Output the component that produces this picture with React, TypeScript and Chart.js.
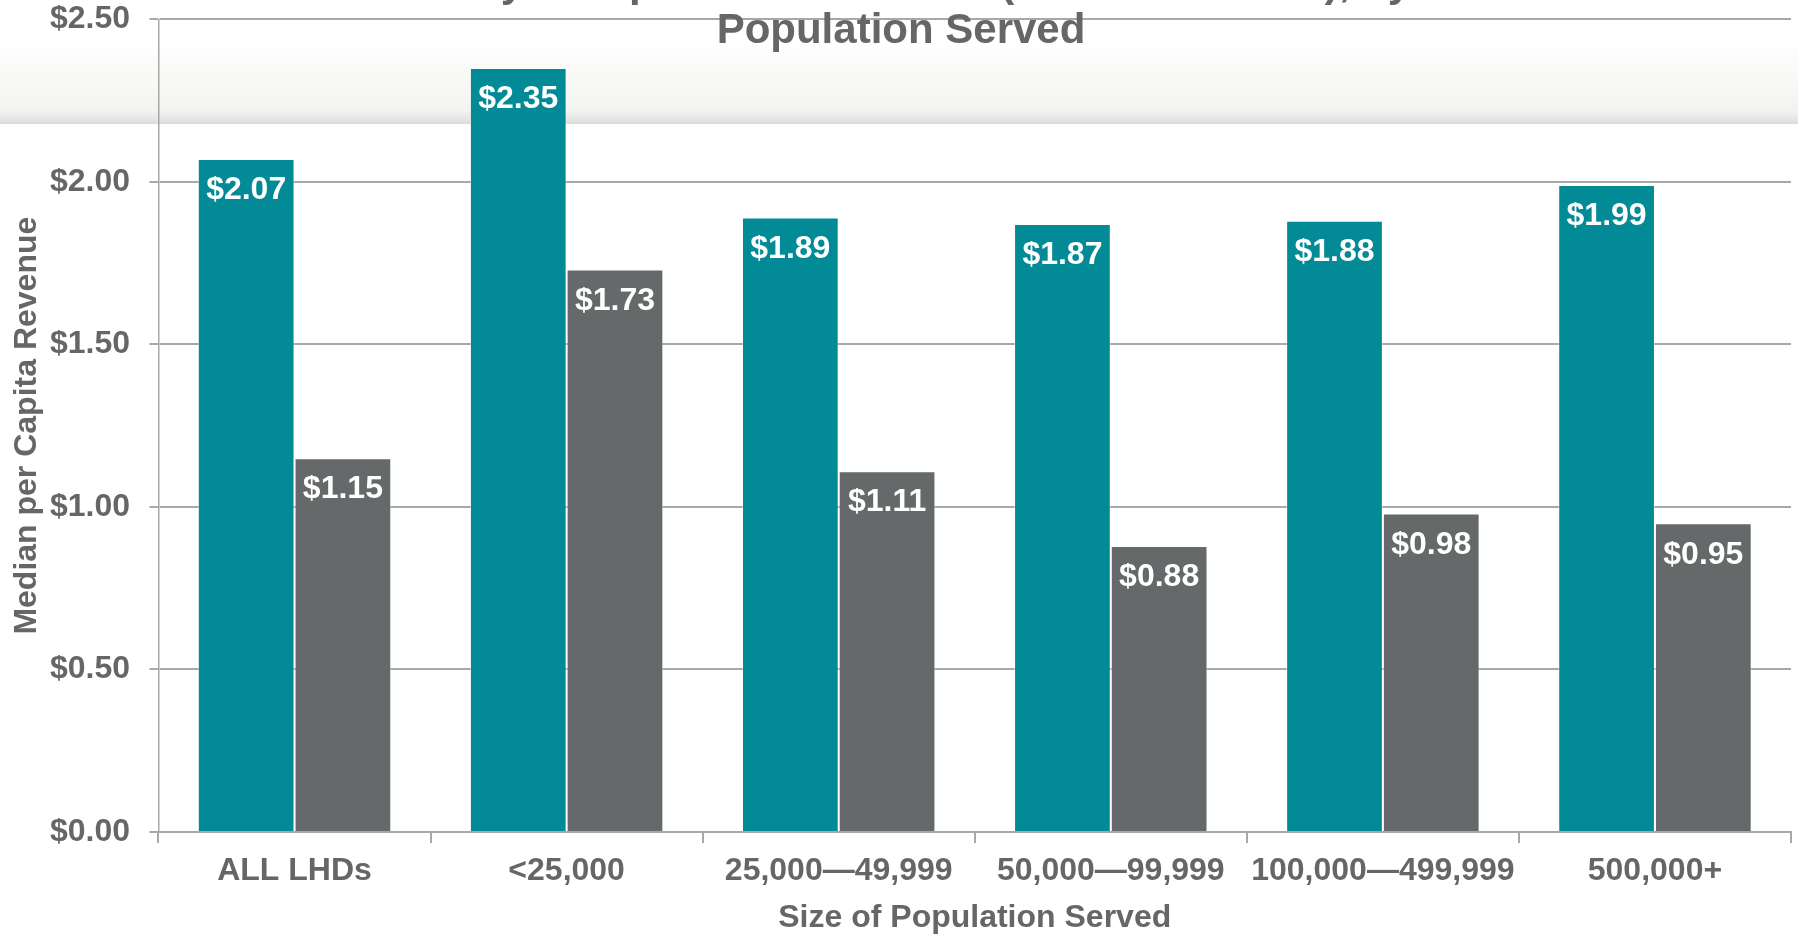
import React, { useEffect, useRef } from "react";
import { Chart, registerables } from "chart.js";

Chart.register(...registerables);

const categories = ["ALL LHDs", "<25,000", "25,000\u201449,999", "50,000\u201499,999", "100,000\u2014499,999", "500,000+"];
const seriesTealName = "Series 1";
const seriesGrayName = "Series 2";
const seriesTeal = [2.07, 2.35, 1.89, 1.87, 1.88, 1.99];
const seriesGray = [1.15, 1.73, 1.11, 0.88, 0.98, 0.95];
const yTickValues = [0, 0.5, 1.0, 1.5, 2.0, 2.5];
const yTickLabels = ["$0.00", "$0.50", "$1.00", "$1.50", "$2.00", "$2.50"];
const titleLines = [
  "Median Yearly Comparable Revenues (Local and State), by Size of",
  "Population Served",
];
const xAxisTitle = "Size of Population Served";
const yAxisTitle = "Median per Capita Revenue";

const FONT = "'Liberation Sans', Arial, Helvetica, sans-serif";
const TEXT_GRAY = "#666666";
const LINE_GRAY = "#a8a8a8";
const TEAL = "#028b96";
const GRAY = "#666969";
const FS = 32;

const bandPlugin = {
  id: "band",
  beforeDraw(chart: any) {
    const ctx = chart.ctx;
    const w = chart.width;
    const top = 42;
    const bottom = 124;
    const g = ctx.createLinearGradient(0, top, 0, bottom);
    g.addColorStop(0, "rgba(255,255,255,1)");
    g.addColorStop(0.2, "#fbfbfa");
    g.addColorStop(0.6, "#f7f7f4");
    g.addColorStop(0.84, "#f2f2f0");
    g.addColorStop(0.94, "#e6e6e5");
    g.addColorStop(1, "#dadada");
    ctx.save();
    ctx.fillStyle = g;
    ctx.fillRect(0, top, w, bottom - top);
    ctx.restore();
  },
};

const valueLabelPlugin = {
  id: "valueLabels",
  afterDatasetsDraw(chart: any) {
    const ctx = chart.ctx;
    ctx.save();
    ctx.font = `bold ${FS}px ${FONT}`;
    ctx.fillStyle = "#ffffff";
    ctx.textAlign = "center";
    ctx.textBaseline = "middle";
    chart.data.datasets.forEach((ds: any, di: number) => {
      const meta = chart.getDatasetMeta(di);
      meta.data.forEach((el: any, i: number) => {
        const v = ds.data[i];
        ctx.fillText("$" + v.toFixed(2), el.x, el.y + 31.5);
      });
    });
    ctx.restore();
  },
};

const titlePlugin = {
  id: "clippedTitle",
  afterDraw(chart: any) {
    const ctx = chart.ctx;
    ctx.save();
    ctx.font = `bold 42px ${FONT}`;
    ctx.fillStyle = TEXT_GRAY;
    ctx.textAlign = "center";
    ctx.textBaseline = "alphabetic";
    const cx = chart.width / 2 + 2;
    ctx.fillText(titleLines[0], cx, -4);
    ctx.fillText(titleLines[1], cx, 42.7);
    ctx.restore();
  },
};

export default function App() {
  const canvasRef = useRef<HTMLCanvasElement | null>(null);

  useEffect(() => {
    document.body.style.margin = "0";
    document.body.style.overflow = "hidden";
    document.documentElement.style.overflow = "hidden";
    const canvas = canvasRef.current;
    if (!canvas) return;
    const chart = new Chart(canvas, {
      type: "bar",
      data: {
        labels: categories,
        datasets: [
          {
            label: seriesTealName,
            data: seriesTeal,
            backgroundColor: TEAL,
            borderColor: "rgba(255,255,255,0.45)",
            borderWidth: 1,
            barPercentage: 1,
            categoryPercentage: 0.711,
          },
          {
            label: seriesGrayName,
            data: seriesGray,
            backgroundColor: GRAY,
            borderColor: "rgba(255,255,255,0.45)",
            borderWidth: 1,
            barPercentage: 1,
            categoryPercentage: 0.711,
          },
        ],
      },
      options: {
        animation: false,
        responsive: true,
        maintainAspectRatio: false,
        layout: { padding: { top: 19.3, right: 7, left: 0, bottom: 0 } },
        plugins: {
          legend: { display: false },
          title: { display: false },
          tooltip: { enabled: false },
        },
        scales: {
          x: {
            grid: {
              display: true,
              drawOnChartArea: false,
              drawTicks: true,
              tickLength: 11,
              color: LINE_GRAY,
              lineWidth: 2,
              offset: true,
            },
            border: { display: true, color: LINE_GRAY, width: 2 },
            ticks: {
              color: TEXT_GRAY,
              font: { family: FONT, size: FS, weight: "bold" },
              padding: 9,
              maxRotation: 0,
              autoSkip: false,
            },
            title: {
              display: true,
              text: xAxisTitle,
              color: TEXT_GRAY,
              font: { family: FONT, size: FS, weight: "bold", lineHeight: 1 },
              padding: { top: 0, bottom: 0 },
            },
            afterFit(scale: any) {
              scale.height = 102;
              scale.paddingLeft = 0;
              scale.paddingRight = 0;
            },
          },
          y: {
            min: 0,
            max: 2.5,
            afterBuildTicks(scale: any) {
              scale.ticks = yTickValues.map((v) => ({ value: v }));
            },
            grid: {
              color: LINE_GRAY,
              lineWidth: 2,
              drawTicks: true,
              tickLength: 9,
            },
            border: { display: true, color: LINE_GRAY, width: 1.5 },
            ticks: {
              color: TEXT_GRAY,
              font: { family: FONT, size: FS, weight: "bold" },
              padding: 19.5,
              callback: (_v: any, i: number) => yTickLabels[i],
            },
            title: {
              display: true,
              text: yAxisTitle,
              color: TEXT_GRAY,
              font: { family: FONT, size: FS, weight: "bold", lineHeight: 1 },
              padding: { top: 11, bottom: 0 },
            },
            afterFit(scale: any) {
              scale.width = 158.5;
              scale.paddingTop = 0;
              scale.paddingBottom = 0;
            },
          },
        },
      },
      plugins: [bandPlugin, valueLabelPlugin, titlePlugin],
    });
    return () => chart.destroy();
  }, []);

  return (
    <div style={{ position: "relative", width: "1798px", height: "934px", background: "#ffffff" }}>
      <canvas ref={canvasRef} />
    </div>
  );
}
